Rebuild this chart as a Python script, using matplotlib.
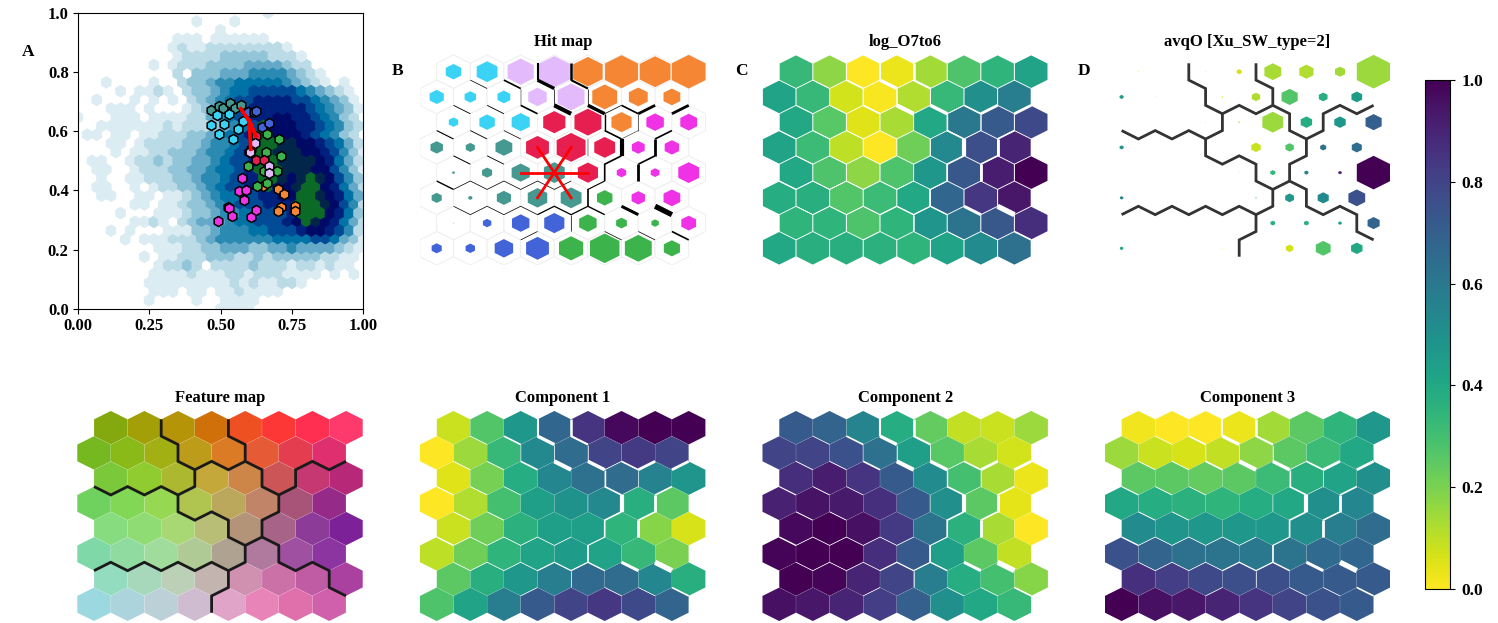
import numpy as np
import matplotlib
matplotlib.use("Agg")
import matplotlib.pyplot as plt
from matplotlib.collections import PolyCollection
from matplotlib.colors import ListedColormap

plt.rcParams['font.family'] = ['Liberation Serif', 'DejaVu Serif']
plt.rcParams['font.weight'] = 'bold'
plt.rcParams['axes.titleweight'] = 'bold'

# hexbin density levels, top row (y=1) first, 0 = empty, b = densest
density_rows = [
    "0000000000000000000010000000000",
    "000000000000100010000000000000",
    "0000000000000001000000000000000",
    "000000000011101111110000000000",
    "0000000000121122222222100000000",
    "000000000012222333332221000000",
    "0000000010122233334444322000000",
    "000000000020333444555543210000",
    "0001000010023345566666543210100",
    "000010112102334566777776543210",
    "0010001010102345677888877654310",
    "000111010001234567888888765431",
    "1000111011112245678889988765320",
    "0011111112122234567b9998876532",
    "0110110112223345678bb9998765320",
    "0001101222233455678bbaa9987642",
    "0000101122333455678bbaaa9987531",
    "0110012232334456778bbaaaa98642",
    "0011001222334456678bbbaaa997531",
    "0010011222334556788bba9aba9753",
    "001100101223345677 88b99abb98642".replace(" ", ""),
    "00110011011234566778899bba9864",
    "000000110112 33456777888bbba9752".replace(" ", ""),
    "00001000111233455667778bbb9863",
    "000000112102 344456677789ba98642".replace(" ", ""),
    "000101000111334555667778998752",
    "0000010111222345555556666776431",
    "000000001112233444334454444321",
    "0000000101122233322323333322110",
    "000000001223202222322212212110",
    "0000000011112111221222111101010",
    "000000011111111121211221000000",
    "0000000011101101121111000000000",
    "000000010000100111100000000000",
    "0000000000000001111000000000000",
]
density_colors = ['#ffffff', '#dcecf3', '#bbdbe7', '#93c5d9', '#64aac8', '#2a8ab2',
                  '#0072a6', '#004a96', '#00207e', '#000a66', '#01264a', '#0b6a25']

# cluster centres over the density
teal_x = [0.466, 0.495, 0.508, 0.533, 0.550, 0.571]
teal_y = [0.672, 0.686, 0.680, 0.694, 0.678, 0.689]
cyan_x = [0.466, 0.487, 0.512, 0.529, 0.495, 0.545, 0.561, 0.578]
cyan_y = [0.620, 0.656, 0.624, 0.657, 0.589, 0.573, 0.609, 0.636]
blue_x = [0.597, 0.617, 0.644, 0.670, 0.625]
blue_y = [0.666, 0.666, 0.613, 0.629, 0.668]
green_x = [0.662, 0.705, 0.712, 0.659, 0.595, 0.653, 0.697, 0.627, 0.664]
green_y = [0.591, 0.573, 0.515, 0.531, 0.484, 0.466, 0.467, 0.415, 0.426]
red_x = [0.624, 0.623, 0.653, 0.606, 0.600]
red_y = [0.584, 0.503, 0.504, 0.539, 0.530]
lilac_x = [0.621, 0.670, 0.670, 0.603]
lilac_y = [0.559, 0.483, 0.458, 0.531]
orange_x = [0.650, 0.702, 0.723, 0.711, 0.702, 0.762, 0.760]
orange_y = [0.415, 0.406, 0.389, 0.343, 0.331, 0.349, 0.332]
magenta_x = [0.575, 0.564, 0.588, 0.582, 0.526, 0.530, 0.539, 0.492, 0.607, 0.624]
magenta_y = [0.442, 0.399, 0.400, 0.368, 0.345, 0.341, 0.314, 0.297, 0.309, 0.335]
# first point is the linked node, the rest are its neighbours
star_x = [0.600, 0.571, 0.606, 0.624, 0.617, 0.610, 0.590]
star_y = [0.635, 0.676, 0.539, 0.584, 0.600, 0.620, 0.650]

# SOM maps, 8 rows of 8 nodes, top row first
hit_clusters = [
    "cclloooo",
    "cccllooo",
    "cccrromm",
    "tttrrrmm",
    "ttttrmmm",
    "tttttgmm",
    "bbbbgggm",
    "bbbbgggg",
]
hit_sizes = [
    [0.46, 0.62, 0.78, 0.93, 0.88, 0.98, 0.92, 1.00],
    [0.42, 0.34, 0.38, 0.55, 0.80, 0.74, 0.56, 0.50],
    [0.28, 0.46, 0.54, 0.66, 0.80, 0.60, 0.52, 0.50],
    [0.37, 0.27, 0.50, 0.68, 0.86, 0.62, 0.38, 0.43],
    [0.08, 0.30, 0.54, 0.62, 0.60, 0.28, 0.26, 0.62],
    [0.30, 0.12, 0.42, 0.58, 0.62, 0.46, 0.40, 0.50],
    [0.02, 0.25, 0.52, 0.60, 0.52, 0.32, 0.22, 0.44],
    [0.30, 0.28, 0.55, 0.68, 0.72, 0.88, 0.80, 0.48],
]
cluster_colors = {'c': '#3bd3f5', 'l': '#e3bafb', 'o': '#f58634', 'r': '#e61f50',
                  't': '#469990', 'm': '#f032e6', 'g': '#3cb44b', 'b': '#4363d8'}

log_o7to6 = [
    [0.33, 0.17, 0.00, 0.03, 0.14, 0.28, 0.35, 0.42],
    [0.42, 0.33, 0.07, 0.01, 0.12, 0.33, 0.50, 0.58],
    [0.40, 0.26, 0.05, 0.13, 0.40, 0.60, 0.72, 0.78],
    [0.42, 0.32, 0.10, 0.00, 0.22, 0.53, 0.76, 0.90],
    [0.40, 0.28, 0.17, 0.28, 0.47, 0.73, 0.92, 1.00],
    [0.38, 0.37, 0.27, 0.32, 0.40, 0.67, 0.84, 0.94],
    [0.35, 0.35, 0.28, 0.35, 0.48, 0.62, 0.73, 0.87],
    [0.40, 0.37, 0.37, 0.36, 0.35, 0.42, 0.52, 0.63],
]
avqo_sizes = [
    [0.02, 0.01, 0.02, 0.15, 0.50, 0.42, 0.30, 1.00],
    [0.12, 0.02, 0.01, 0.04, 0.25, 0.48, 0.26, 0.32],
    [0.01, 0.01, 0.02, 0.05, 0.62, 0.34, 0.34, 0.48],
    [0.12, 0.00, 0.00, 0.01, 0.28, 0.25, 0.18, 0.30],
    [0.00, 0.00, 0.00, 0.02, 0.15, 0.12, 0.10, 1.00],
    [0.10, 0.00, 0.00, 0.00, 0.04, 0.26, 0.33, 0.50],
    [0.00, 0.00, 0.00, 0.01, 0.14, 0.14, 0.10, 0.36],
    [0.10, 0.00, 0.00, 0.02, 0.01, 0.22, 0.44, 0.34],
]
avqo_values = [
    [0.10, 0.10, 0.08, 0.06, 0.13, 0.12, 0.14, 0.15],
    [0.45, 0.10, 0.10, 0.05, 0.12, 0.27, 0.38, 0.45],
    [0.10, 0.10, 0.10, 0.07, 0.15, 0.38, 0.47, 0.70],
    [0.47, 0.10, 0.10, 0.10, 0.08, 0.27, 0.62, 0.65],
    [0.10, 0.10, 0.10, 0.05, 0.33, 0.55, 0.90, 1.00],
    [0.55, 0.10, 0.10, 0.10, 0.25, 0.47, 0.52, 0.75],
    [0.10, 0.10, 0.10, 0.10, 0.37, 0.37, 0.47, 0.68],
    [0.42, 0.10, 0.10, 0.05, 0.10, 0.07, 0.27, 0.40],
]
feature_colors = [
    ['#84a90f', '#a39f07', '#b59408', '#d07008', '#ee5022', '#fd3636', '#fe2f50', '#fd3a6b'],
    ['#75b820', '#8aba18', '#a3b014', '#bd9c1a', '#dc7b26', '#e65a35', '#e53d50', '#df2f6e'],
    ['#7bc83a', '#90cb30', '#abb830', '#c5a83a', '#ce8548', '#cc5558', '#c53872', '#b82878'],
    ['#6fd25e', '#82d855', '#96d852', '#b0c450', '#bca85c', '#c28468', '#a85478', '#952a88'],
    ['#86dc7e', '#8fdc74', '#a8d874', '#b8be76', '#b49478', '#a86488', '#8c3c98', '#7d2198'],
    ['#7fd8a8', '#90dca0', '#a0dc9c', '#b0ca96', '#b0a290', '#b07a9e', '#a050a0', '#8c34a0'],
    ['#94dcc0', '#a8d8bc', '#bcd0b8', '#c4b4b0', '#d090b0', '#cc70a8', '#c05ca4', '#aa40a0'],
    ['#9cd8e0', '#acd4dc', '#bcd0d8', '#d0bcd0', '#e0a4c8', '#e884b8', '#e070ac', '#d060ac'],
]
component_1 = [
    [0.08, 0.27, 0.47, 0.67, 0.85, 0.98, 1.00, 1.00],
    [0.00, 0.15, 0.33, 0.53, 0.65, 0.80, 0.83, 0.80],
    [0.05, 0.21, 0.38, 0.54, 0.63, 0.65, 0.56, 0.48],
    [0.00, 0.12, 0.30, 0.44, 0.49, 0.53, 0.37, 0.25],
    [0.08, 0.22, 0.36, 0.44, 0.44, 0.35, 0.18, 0.06],
    [0.10, 0.22, 0.35, 0.42, 0.45, 0.42, 0.33, 0.20],
    [0.25, 0.37, 0.47, 0.58, 0.66, 0.65, 0.54, 0.37],
    [0.28, 0.42, 0.58, 0.72, 0.80, 0.84, 0.78, 0.68],
]
component_2 = [
    [0.72, 0.68, 0.55, 0.38, 0.24, 0.09, 0.08, 0.15],
    [0.80, 0.80, 0.75, 0.63, 0.44, 0.26, 0.13, 0.07],
    [0.87, 0.92, 0.85, 0.72, 0.52, 0.30, 0.13, 0.03],
    [0.91, 0.95, 0.93, 0.86, 0.72, 0.50, 0.25, 0.04],
    [0.98, 1.00, 0.96, 0.83, 0.62, 0.36, 0.13, 0.00],
    [0.99, 1.00, 1.00, 0.87, 0.72, 0.44, 0.25, 0.09],
    [1.00, 0.99, 0.90, 0.80, 0.58, 0.38, 0.30, 0.18],
    [0.96, 0.94, 0.90, 0.82, 0.70, 0.50, 0.40, 0.33],
]
component_3 = [
    [0.02, 0.00, 0.00, 0.03, 0.14, 0.25, 0.35, 0.47],
    [0.15, 0.08, 0.06, 0.09, 0.17, 0.25, 0.32, 0.40],
    [0.25, 0.25, 0.24, 0.25, 0.32, 0.37, 0.42, 0.50],
    [0.40, 0.38, 0.36, 0.35, 0.38, 0.40, 0.50, 0.54],
    [0.52, 0.48, 0.47, 0.47, 0.47, 0.50, 0.58, 0.65],
    [0.75, 0.68, 0.63, 0.62, 0.60, 0.62, 0.66, 0.67],
    [0.86, 0.82, 0.78, 0.76, 0.76, 0.72, 0.72, 0.72],
    [1.00, 0.96, 0.94, 0.90, 0.85, 0.80, 0.75, 0.72],
]

# cluster borders as (half column, third of a row) node chains
cluster_borders = [
    [(4, -1), (4, 1), (5, 2), (5, 4), (6, 5), (6, 7), (5, 8), (4, 7), (3, 8), (2, 7), (1, 8), (0, 7)],
    [(6, 5), (7, 4), (8, 5), (9, 4), (9, 2), (8, 1), (8, -1)],
    [(9, 4), (10, 5), (10, 7), (11, 8), (12, 7), (12, 5), (13, 4), (14, 5), (15, 4)],
    [(11, 8), (11, 10), (10, 11), (10, 13), (9, 14), (8, 13), (8, 11), (7, 10), (6, 11), (5, 10), (5, 8)],
    [(10, 13), (11, 14), (11, 16), (12, 17), (13, 16), (14, 17), (14, 19), (15, 20)],
    [(9, 14), (9, 16), (8, 17), (7, 16), (6, 17), (5, 16), (4, 17), (3, 16), (2, 17), (1, 16), (0, 17)],
    [(8, 17), (8, 19), (7, 20), (7, 22)],
]
# borders with a width that follows the node distance
distance_borders = [
    (0.5, [(2, 1), (3, 2)]), (1.2, [(4, 1), (5, 2)]),
    (1.5, [(6, -1), (6, 1)]), (2.4, [(6, 1), (7, 2)]), (0.5, [(7, 2), (7, 4)]), (3.0, [(7, 4), (8, 5)]),
    (1.8, [(8, -1), (8, 1)]), (1.5, [(8, 1), (9, 2)]), (0.5, [(9, 2), (9, 4)]), (2.5, [(9, 4), (10, 5)]),
    (1.0, [(10, 5), (10, 7)]), (1.2, [(10, 7), (11, 8)]), (3.0, [(11, 8), (11, 10)]),
    (1.2, [(11, 10), (10, 11), (10, 13)]), (0.8, [(10, 13), (9, 14)]),
    (0.3, [(5, 2), (5, 4)]), (1.2, [(5, 4), (6, 5)]), (0.6, [(1, 4), (2, 5)]), (0.6, [(3, 4), (4, 5)]),
    (0.8, [(0, 7), (1, 8)]), (0.6, [(2, 7), (3, 8)]), (0.5, [(4, 7), (5, 8)]),
    (0.7, [(1, 10), (2, 11)]), (0.6, [(3, 10), (4, 11)]),
    (1.0, [(0, 13), (1, 14)]),
    (0.5, [(1, 14), (2, 13), (3, 14), (4, 13), (5, 14), (6, 13), (7, 14), (8, 13)]),
    (0.5, [(1, 16), (2, 17), (3, 16), (4, 17), (5, 16), (6, 17)]),
    (0.9, [(6, 17), (7, 16), (8, 17)]), (0.5, [(8, 17), (8, 19)]),
    (0.9, [(8, 17), (9, 16)]), (1.2, [(9, 14), (9, 16)]), (1.0, [(9, 16), (10, 17)]),
    (0.5, [(10, 19), (11, 20)]), (0.5, [(12, 19), (13, 20)]), (1.2, [(14, 19), (15, 20)]),
    (0.5, [(5, 20), (6, 19)]),
    (1.2, [(11, 4), (12, 5)]), (2.0, [(12, 5), (13, 4)]), (2.0, [(14, 5), (15, 4)]),
    (0.5, [(10, 5), (11, 4)]), (0.4, [(12, 5), (12, 7)]), (0.3, [(11, 8), (12, 7)]),
    (1.2, [(13, 8), (14, 7)]), (2.0, [(13, 8), (13, 10)]), (1.2, [(13, 10), (12, 11)]),
    (2.0, [(12, 11), (12, 13)]),
    (2.2, [(11, 16), (12, 17)]), (3.8, [(13, 16), (14, 17)]),
    (0.3, [(9, 8), (9, 10)]),
]
# hit map node that is linked to its six neighbours
star_row, star_col = 4, 3

FIG_W, FIG_H = 1498, 623
HEX_DX = 33.6   # px between columns
THIRD = 8.41    # px per third of a row

fig = plt.figure(figsize=(FIG_W / 100, FIG_H / 100), dpi=100)


def px_axes(left, top, right, bottom):
    return fig.add_axes([left / FIG_W, 1 - bottom / FIG_H,
                         (right - left) / FIG_W, (bottom - top) / FIG_H])


def som_axes(first_x, row0_y, title):
    # first_x is the centre of the first node in an unshifted row
    left = first_x - HEX_DX / 2
    ax = px_axes(left, row0_y - 2.3 * THIRD, left + 8.5 * HEX_DX, row0_y + 23 * THIRD)
    ax.set_xlim(-0.5, 8.0)
    ax.set_ylim(-23 / 3, 2.3 / 3)
    ax.axis('off')
    ax.set_title(title, fontsize=12, pad=4.5)
    return ax


def hex_verts(sizes=None, full=0.995):
    out = []
    for r in range(8):
        for c in range(8):
            s = full if sizes is None else sizes[r][c]
            x = c + (0.5 if r % 2 == 0 else 0.0)
            y = -r
            out.append([(x, y + s * 2 / 3), (x + s / 2, y + s / 3), (x + s / 2, y - s / 3),
                        (x, y - s * 2 / 3), (x - s / 2, y - s / 3), (x - s / 2, y + s / 3)])
    return out


def draw_values(ax, values, sizes=None, full=0.995):
    coll = PolyCollection(hex_verts(sizes, full), array=np.array(values).ravel(), cmap='viridis_r',
                          clim=(0, 1), edgecolors='none')
    ax.add_collection(coll)


def draw_chains(ax, chains, color, lw):
    for chain in chains:
        ax.plot([n[0] / 2 for n in chain], [-n[1] / 3 for n in chain], color=color, lw=lw,
                solid_capstyle='butt', solid_joinstyle='miter', zorder=4)


def draw_distance(ax, color):
    for width, chain in distance_borders:
        draw_chains(ax, [chain], color, width)


# A: density of the sample with the cluster centres on top
ax_a = px_axes(77.7, 12.7, 363.3, 309)
hb_x, hb_y, hb_c = [], [], []
for n, row in enumerate(density_rows):
    m = len(density_rows) - 1 - n
    for i, ch in enumerate(row):
        level = int(ch, 16)
        if level > 0:
            hb_x.append((i + (0.5 if m % 2 else 0.0)) / 30)
            hb_y.append(m / 34)
            hb_c.append(level)
ax_a.hexbin(hb_x, hb_y, C=hb_c, gridsize=30, extent=(0, 1, 0, 1), reduce_C_function=np.max,
            cmap=ListedColormap(density_colors), vmin=-0.5, vmax=11.5, linewidths=0.7)
for xs, ys, name in [(orange_x, orange_y, 'o'), (magenta_x, magenta_y, 'm'), (teal_x, teal_y, 't'),
                     (cyan_x, cyan_y, 'c'), (blue_x, blue_y, 'b'), (green_x, green_y, 'g'),
                     (red_x, red_y, 'r'), (lilac_x, lilac_y, 'l')]:
    ax_a.scatter(xs, ys, marker='h', s=52, color=cluster_colors[name], edgecolors='black',
                 linewidths=1.1, zorder=3)
for x, y in zip(star_x[1:], star_y[1:]):
    ax_a.plot([star_x[0], x], [star_y[0], y], color='red', lw=2.6, zorder=4)
ax_a.set_xlim(0, 1)
ax_a.set_ylim(0, 1)
ax_a.set_xticks([0, 0.25, 0.5, 0.75, 1])
ax_a.set_xticklabels(['0.00', '0.25', '0.50', '0.75', '1.00'])
ax_a.set_yticks([0, 0.2, 0.4, 0.6, 0.8, 1])
ax_a.tick_params(labelsize=12, length=3.5, width=0.8, pad=3)

# B: hit map
ax_b = som_axes(436.7, 71.7, 'Hit map')
ax_b.add_collection(PolyCollection(hex_verts(full=1.0), facecolors='white', edgecolors='#eeeeee', linewidths=0.7))
flat_colors = [cluster_colors[ch] for row in hit_clusters for ch in row]
ax_b.add_collection(PolyCollection(hex_verts(hit_sizes), facecolors=flat_colors, edgecolors='none', zorder=2))
draw_distance(ax_b, 'black')
cx = star_col + 0.5
for dx, dy in [(-1, 0), (1, 0), (-0.5, 1), (0.5, 1), (-0.5, -1), (0.5, -1)]:
    ax_b.plot([cx, cx + dx], [-star_row, -star_row + dy], color='red', lw=2.0, zorder=5)

# C: log_O7to6
ax_c = som_axes(779.2, 71.7, 'log_O7to6')
draw_values(ax_c, log_o7to6, full=0.97)
draw_distance(ax_c, 'white')

# D: avqO
ax_d = som_axes(1121.6, 71.7, 'avqO [Xu_SW_type=2]')
draw_values(ax_d, avqo_values, sizes=avqo_sizes)
draw_chains(ax_d, cluster_borders, '#333333', 2.0)

# bottom row
ax_f = som_axes(94, 427.7, 'Feature map')
ax_f.add_collection(PolyCollection(hex_verts(), facecolors=[c for row in feature_colors for c in row],
                                   edgecolors='none'))
draw_chains(ax_f, cluster_borders, '#1a1a1a', 2.0)

for first_x, values, title in [(436.7, component_1, 'Component 1'),
                               (779.2, component_2, 'Component 2'),
                               (1121.6, component_3, 'Component 3')]:
    ax = som_axes(first_x, 427.7, title)
    draw_values(ax, values)
    draw_distance(ax, 'white')

# shared colour scale
cax = px_axes(1425, 80, 1450, 589)
sm = plt.cm.ScalarMappable(cmap='viridis_r', norm=plt.Normalize(0, 1))
cbar = fig.colorbar(sm, cax=cax)
cbar.set_ticks([0, 0.2, 0.4, 0.6, 0.8, 1.0])
cbar.ax.tick_params(labelsize=12.5, length=3.5, width=0.8, pad=5)

for letter, x, y in [('A', 28, 52), ('B', 398, 71), ('C', 741, 71), ('D', 1084, 71)]:
    fig.text(x / FIG_W, 1 - y / FIG_H, letter, fontsize=12.5, ha='center', va='center')

fig.savefig('out.png', dpi=100)
plt.close(fig)
